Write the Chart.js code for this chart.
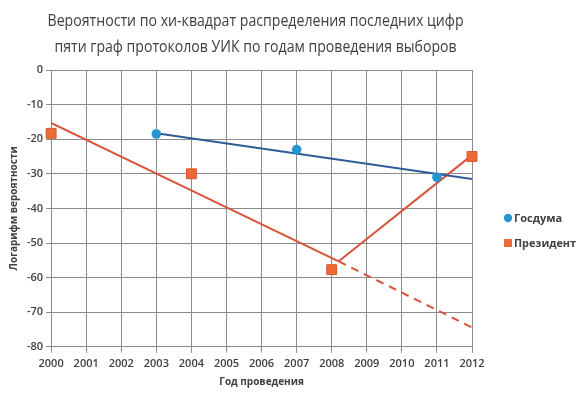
<!DOCTYPE html>
<html>
<head>
<meta charset="utf-8">
<script src="https://cdn.jsdelivr.net/npm/chart.js@4/dist/chart.umd.min.js"></script>
<style>
  html, body { margin: 0; padding: 0; background: #fff; }
  #wrap { width: 580px; height: 396px; }
</style>
</head>
<body>
<div id="wrap"><canvas id="chart"></canvas></div>
<script>
// chart data
const titleLines = ['Вероятности по хи-квадрат распределения последних цифр', 'пяти граф протоколов УИК по годам проведения выборов'];
const seriesNames = ['Госдума', 'Президент'];

const dumaYears = [2003, 2007, 2011];
const dumaValues = [-18.5, -23, -31];

const presYears = [2000, 2004, 2008, 2012];
const presValues = [-18.3, -30, -57.7, -25];

// trend lines (endpoints)
const dumaTrendYears = [2003, 2012];
const dumaTrendValues = [-18.3, -31.5];
const presTrendYears = [2000, 2008.2];
const presTrendValues = [-15.3, -55.3];
const presForecastYears = [2008.2, 2012];
const presForecastValues = [-55.3, -74.4];
const presRecentYears = [2008.2, 2012];
const presRecentValues = [-55.3, -24.6];

const xMin = 2000, xMax = 2012;
const yMin = -80, yMax = 0, yStep = 10;

const toPoints = (xs, ys) => xs.map((x, i) => ({ x: x, y: ys[i] }));

const textColor = '#404040';
const gridColor = '#8c8c8c';
const fontFamily = "'Open Sans', sans-serif";

// title centred over the plot and legend placed like the original
const headerPlugin = {
	id: 'header',
	afterDraw(chart) {
		const c = chart.ctx;
		const area = chart.chartArea;
		c.save();
		c.fillStyle = textColor;
		c.font = "17px " + fontFamily;
		c.textAlign = 'center';
		c.textBaseline = 'middle';
		const cx = (area.left + area.right) / 2 - 6;
		const widths = [416, 402];
		titleLines.forEach((t, i) => c.fillText(t, cx, 21 + i * 26, widths[i]));

		// legend
		const lx = area.right + 36;
		c.font = "bold 11px " + fontFamily;
		c.textAlign = 'left';
		seriesNames.forEach((name, i) => {
			const ds = chart.data.datasets[i];
			const ly = 218 + i * 25;
			c.fillStyle = ds.backgroundColor;
			if (ds.pointStyle === 'circle') {
				c.beginPath();
				c.arc(lx, ly, 4.2, 0, Math.PI * 2);
				c.fill();
			} else {
				c.fillRect(lx - 4, ly - 4, 8, 8);
			}
			c.fillStyle = textColor;
			c.fillText(name, lx + 6, ly + 1, 62);
		});
		c.restore();
	}
};

const ctx = document.getElementById('chart').getContext('2d');

const chart = new Chart(ctx, {
	type: 'scatter',
	data: {
		datasets: [
			{
				label: seriesNames[0],
				data: toPoints(dumaYears, dumaValues),
				pointStyle: 'circle',
				pointRadius: 4.8,
				backgroundColor: '#2596cf',
				borderColor: '#2596cf',
				borderWidth: 0,
				clip: false,
				order: 0
			},
			{
				label: seriesNames[1],
				data: toPoints(presYears, presValues),
				pointStyle: 'rect',
				pointRadius: 7,
				backgroundColor: '#ec6a35',
				borderColor: '#d9572c',
				borderWidth: 1,
				clip: false,
				order: 0
			},
			{
				label: 'trend-duma',
				type: 'line',
				data: toPoints(dumaTrendYears, dumaTrendValues),
				borderColor: '#2f5b96',
				borderWidth: 2,
				pointRadius: 0,
				order: 1
			},
			{
				label: 'trend-pres',
				type: 'line',
				data: toPoints(presTrendYears, presTrendValues),
				borderColor: '#d9533b',
				borderWidth: 2,
				pointRadius: 0,
				order: 1
			},
			{
				label: 'trend-pres-forecast',
				type: 'line',
				data: toPoints(presForecastYears, presForecastValues),
				borderColor: '#d9533b',
				borderWidth: 2,
				borderDash: [8, 6],
				pointRadius: 0,
				order: 1
			},
			{
				label: 'trend-pres-recent',
				type: 'line',
				data: toPoints(presRecentYears, presRecentValues),
				borderColor: '#d9533b',
				borderWidth: 2,
				pointRadius: 0,
				order: 1
			}
		]
	},
	options: {
		responsive: true,
		maintainAspectRatio: false,
		animation: false,
		layout: { padding: { left: 4, right: 108, top: 70, bottom: 4 } },
		plugins: {
			title: { display: false },
			legend: { display: false },
			tooltip: { enabled: false }
		},
		scales: {
			x: {
				type: 'linear',
				min: xMin,
				max: xMax,
				ticks: {
					stepSize: 1,
					color: textColor,
					padding: 4,
					font: { family: 'Open Sans', size: 11, weight: '600' },
					callback: (v) => String(v)
				},
				grid: { color: gridColor, lineWidth: 1, tickLength: 6 },
				border: { color: gridColor },
				title: {
					display: true,
					text: 'Год проведения',
					color: textColor,
					font: { family: 'Open Sans', size: 10, weight: 'bold' },
					padding: { top: 2 }
				}
			},
			y: {
				min: yMin,
				max: yMax,
				ticks: {
					stepSize: yStep,
					color: textColor,
					font: { family: 'Open Sans', size: 11, weight: '600' }
				},
				grid: { color: gridColor, lineWidth: 1, tickLength: 5 },
				border: { color: gridColor },
				title: {
					display: true,
					text: 'Логарифм вероятности',
					color: textColor,
					font: { family: 'Open Sans', size: 10, weight: 'bold' },
					padding: { bottom: 4 }
				}
			}
		}
	},
	plugins: [headerPlugin]
});
</script>
</body>
</html>
